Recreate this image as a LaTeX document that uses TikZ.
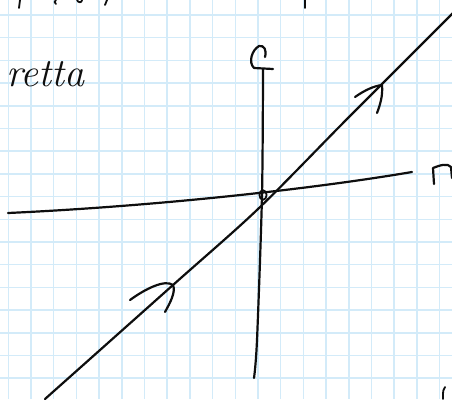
\documentclass[tikz,border=0pt]{standalone}
\usepackage{fontspec}
\usepackage{tikz}
\usetikzlibrary{calc}
\definecolor{cGrid}{HTML}{D3EBF9}
\definecolor{cInk}{HTML}{0E0E0E}

\begin{document}
\begin{tikzpicture}[
  x=1pt, y=-1pt,
  grid/.style={draw=cGrid, line width=1.5pt},
  ink/.style={draw=cInk, line width=2.2pt, line cap=round, line join=round},
  thin ink/.style={ink, line width=1.8pt},
  label/.style={text=cInk, font=\fontsize{40}{40}\selectfont\itshape, inner sep=0pt, anchor=base west},
]
% ---- paper
\fill[white] (0,0) rectangle (452,399);
\useasboundingbox (0,0) rectangle (452,399);
\foreach \k in {0,...,19} \draw[grid] ({8.3+22.7*\k},0) -- ({8.3+22.7*\k},399);
\foreach \k in {0,...,17} \draw[grid] (0,{15+22.7*\k}) -- (452,{15+22.7*\k});

% ---- axes
\coordinate (xl) at (8,213);
\coordinate (xr) at (412,172);
\coordinate (yt) at (263,69);
\coordinate (yb) at (254,378);
\coordinate (o) at (263,195);
\draw[ink] (xl) .. controls (140,207) and (300,191) .. (xr);
\draw[ink] plot[smooth, tension=0.5] coordinates {(yt) (262,195) (257,340) (yb)};
\draw[thin ink] (o) ellipse (3.6 and 4.8);

% hand-drawn axis tips
\draw[ink] (265,57) .. controls (267,50) and (264,45) .. (259,46)
  .. controls (252,50) and (248,62) .. (254,68) -- (273,69);
\draw[ink] (434,184) -- (433,168) .. controls (440,165) and (448,163) .. (451,167)
  -- (452,178);

% ---- retta
\coordinate (r0) at (45,399);
\coordinate (r1) at (173,285);
\coordinate (r2) at (258,209);
\coordinate (r3) at (348,118);
\coordinate (r4) at (453,13);
\draw[ink] plot[smooth, tension=0.5] coordinates {(r0) (r1) (r2) (r3) (r4)};
\draw[ink] (130,300) .. controls (145,289) and (165,279) .. (r1)
  .. controls (176,292) and (170,303) .. (165,312);
\coordinate (a2) at (382,85);
\draw[ink] (355,97) .. controls (365,90) and (374,86) .. (a2)
  .. controls (383,96) and (380,105) .. (377,113);
\node[label] (lbl) at (6,86) {retta};

% ---- cut-off strokes at the edges
\draw[thin ink] (20,0) -- (19,8);
\draw[thin ink] (56,0) .. controls (54,2) .. (56,4);
\draw[thin ink] (77,0) .. controls (78,3) and (82,3) .. (82,0);
\draw[thin ink] (107,0) -- (105,5);
\draw[thin ink] (305,0) -- (305,8);
\draw[thin ink] (445,387) .. controls (443,390) .. (443,399);
\end{tikzpicture}
\end{document}
